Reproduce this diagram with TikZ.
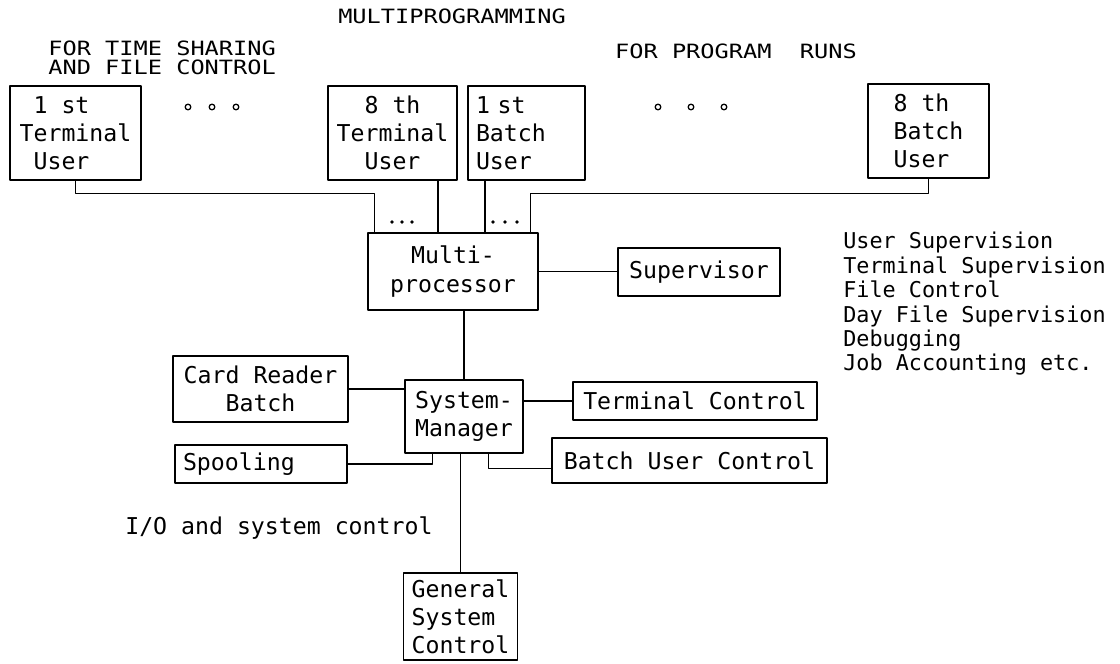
\documentclass[tikz,border=0pt]{standalone}
\usepackage{fontspec}
\setmonofont{DejaVu Sans Mono}
\newfontfamily\headfont[FakeStretch=1.2]{DejaVu Sans Mono}
\begin{document}
\begin{tikzpicture}[line join=round, line cap=round, line width=.9pt,
	font=\ttfamily\fontsize{16.5}{20}\selectfont,
	ubox/.style={draw, inner xsep=.2cm, inner ysep=0pt},
	head/.style={font=\headfont\fontsize{14}{13.5}\selectfont}]
	\useasboundingbox (0,0) rectangle (28,-16.6);
	% users on top
	\node[ubox, minimum width=3.275cm, minimum height=2.35cm, align=left] (t1) at (1.8875,-3.325) {\hphantom{x}1 st\\Terminal\\\hphantom{x}User};
	\node[ubox, minimum width=3.225cm, minimum height=2.35cm, align=center] (t8) at (9.8125,-3.325) {8 th\\Terminal\\User};
	\node[ubox, text width=2.525cm, minimum height=2.35cm, align=left] (b1) at (13.1625,-3.325) {1 st\\Batch\\User};
	\node[ubox, minimum width=3.025cm, minimum height=2.35cm, align=left] (b8) at (23.2125,-3.275) {8 th\\Batch\\User};
	\foreach \x in {4.7,5.3,5.9,16.45,17.275,18.1} \draw (\x,-2.675) circle (.07);
	% headings
	\node[head] (multi) at (11.3,-.4) {MULTIPROGRAMMING};
	\node[head, anchor=west, align=left] (ts) at (1.075,-1.45) {FOR TIME SHARING\\AND FILE CONTROL};
	\node[head] (runs) at (18.4,-1.275) {FOR PROGRAM~ RUNS};
	% central part
	\node[ubox, minimum width=4.25cm, minimum height=1.925cm, align=center] (mp) at (11.325,-6.7875) {Multi-\\processor};
	\node[ubox, minimum width=4.05cm, minimum height=1.2cm] (sup) at (17.475,-6.8) {Supervisor};
	\node[ubox, minimum width=2.95cm, minimum height=1.825cm, align=center] (sysm) at (11.6,-10.4125) {System-\\Manager};
	\node[ubox, minimum width=4.375cm, minimum height=1.65cm, align=center] (card) at (6.5125,-9.725) {Card Reader\\Batch};
	\node[ubox, text width=3.9cm, minimum height=.95cm, align=left] (spool) at (6.525,-11.6) {Spooling};
	\node[ubox, minimum width=6.1cm, minimum height=.95cm] (term) at (17.375,-10.025) {Terminal Control};
	\node[ubox, minimum width=6.875cm, minimum height=1.125cm] (buc) at (17.2375,-11.5125) {Batch User Control};
	\node[ubox, minimum width=2.825cm, minimum height=2.175cm, align=left] (gsc) at (11.5125,-15.4125) {General\\System\\Control};
	\node[anchor=west] (io) at (3,-13.2) {I/O and system control};
	\node[anchor=west, align=left, font=\ttfamily\fontsize{15.5}{17.35}\selectfont] (jobs) at (20.95,-7.6) {User Supervision\\Terminal Supervision\\File Control\\Day File Supervision\\Debugging\\Job Accounting etc.};
	% lines into the multiprocessor
	\path
	([xshift=.175cm]mp.north west) coordinate (m1)
	([xshift=-.375cm]mp.north) coordinate (m2)
	([xshift=.8cm]mp.north) coordinate (m3)
	([xshift=-.2cm]mp.north east) coordinate (m4);
	\draw (t1.south) |- ([yshift=.975cm]m1) -- (m1)
	(m2) -- (m2 |- t8.south)
	(m3) -- (m3 |- b1.south)
	(b8.south) |- ([yshift=.975cm]m4) -- (m4);
	\foreach \x in {9.8,10.05,10.3,12.325,12.625,12.925} \fill (\x,-5.55) circle (.045);
	\draw (mp.east) -- (mp.east -| sup.west)
	(sysm.north) -- (sysm.north |- mp.south)
	(card.east) -- (card.east -| sysm.west)
	(term.west) -- (term.west -| sysm.east)
	(spool.east) -| ([xshift=.7cm]sysm.south west)
	([yshift=-.2cm]buc.west) -| ([xshift=-.875cm]sysm.south east)
	(gsc.north) -- (gsc.north |- sysm.south);
\end{tikzpicture}
\end{document}
